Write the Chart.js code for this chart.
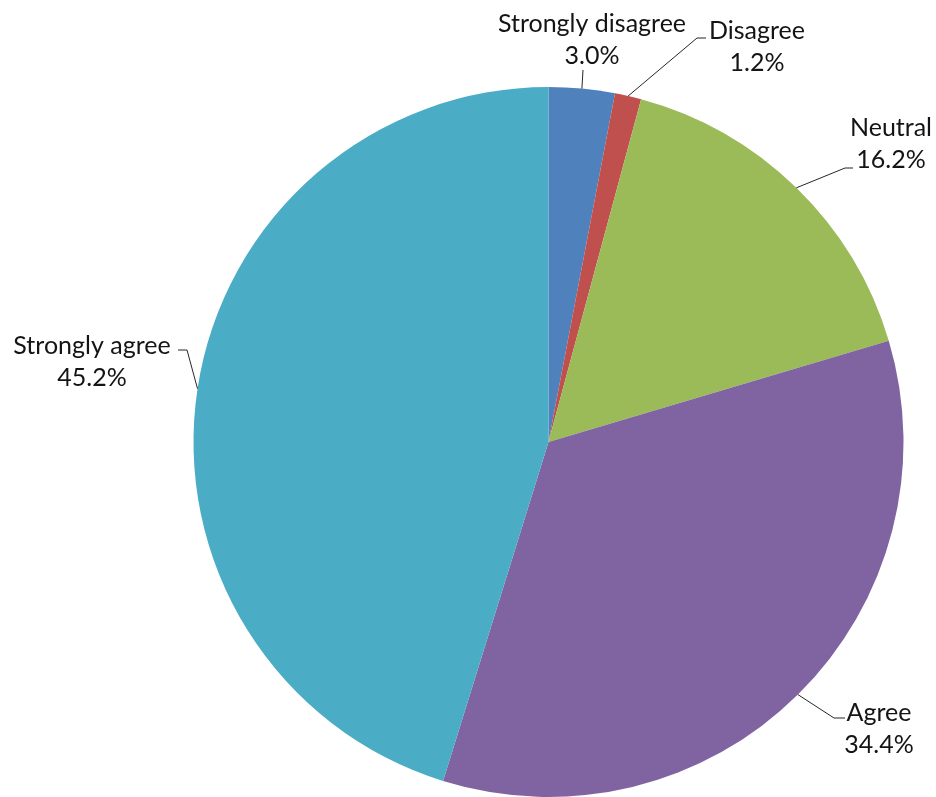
<!DOCTYPE html>
<html><head><meta charset="utf-8">
<script src="https://cdn.jsdelivr.net/npm/chart.js@4"></script>
<style>html,body{margin:0;padding:0;background:#fff;overflow:hidden}#wrap{width:936px;height:797px}</style>
</head><body><div id="wrap"><canvas id="c"></canvas></div>
<script>
const categories = ["Strongly disagree", "Disagree", "Neutral", "Agree", "Strongly agree"];
const values = [3.0, 1.2, 16.2, 34.4, 45.2];
const valueLabels = ["3.0%", "1.2%", "16.2%", "34.4%", "45.2%"];
const colors = ["#4F81BD", "#C0504D", "#9BBB59", "#8064A2", "#4BACC6"];

// label layout: text block center x, first-line baseline y, elbow point, end point of leader
const labelLayout = [
  {tx: 592, ty: 32, elbow: null, end: [583, 70]},
  {tx: 757, ty: 39, elbow: [697, 38], end: [706, 38]},
  {tx: 891, ty: 136, elbow: [845, 168], end: [853, 168]},
  {tx: 879, ty: 721, elbow: [834, 718], end: [845, 718]},
  {tx: 92, ty: 354, elbow: [187, 350], end: [178, 350]}
];

const labelPlugin = {
  id: "pieLabels",
  afterDraw(chart) {
    const ctx = chart.ctx;
    const meta = chart.getDatasetMeta(0);
    ctx.save();
    meta.data.forEach((arc, i) => {
      const mid = (arc.startAngle + arc.endAngle) / 2;
      const sx = arc.x + Math.cos(mid) * arc.outerRadius;
      const sy = arc.y + Math.sin(mid) * arc.outerRadius;
      const L = labelLayout[i];
      ctx.strokeStyle = "#262626";
      ctx.lineWidth = 1;
      ctx.beginPath();
      ctx.moveTo(sx, sy);
      if (L.elbow) { ctx.lineTo(L.elbow[0], L.elbow[1]); }
      ctx.lineTo(L.end[0], L.end[1]);
      ctx.stroke();
      ctx.fillStyle = "#141414";
      ctx.font = "25px Lato, 'Open Sans', sans-serif";
      ctx.textAlign = "center";
      ctx.textBaseline = "alphabetic";
      ctx.fillText(chart.data.labels[i], L.tx, L.ty);
      ctx.fillText(valueLabels[i], L.tx, L.ty + 32);
    });
    ctx.restore();
  }
};

new Chart(document.getElementById("c"), {
  type: "pie",
  data: {
    labels: categories,
    datasets: [{ data: values, backgroundColor: colors, borderWidth: 0 }]
  },
  options: {
    responsive: true,
    maintainAspectRatio: false,
    animation: false,
    layout: { padding: { top: 87, bottom: 0, left: 193, right: 32 } },
    plugins: { legend: { display: false }, tooltip: { enabled: false } }
  },
  plugins: [labelPlugin]
});
</script></body></html>
